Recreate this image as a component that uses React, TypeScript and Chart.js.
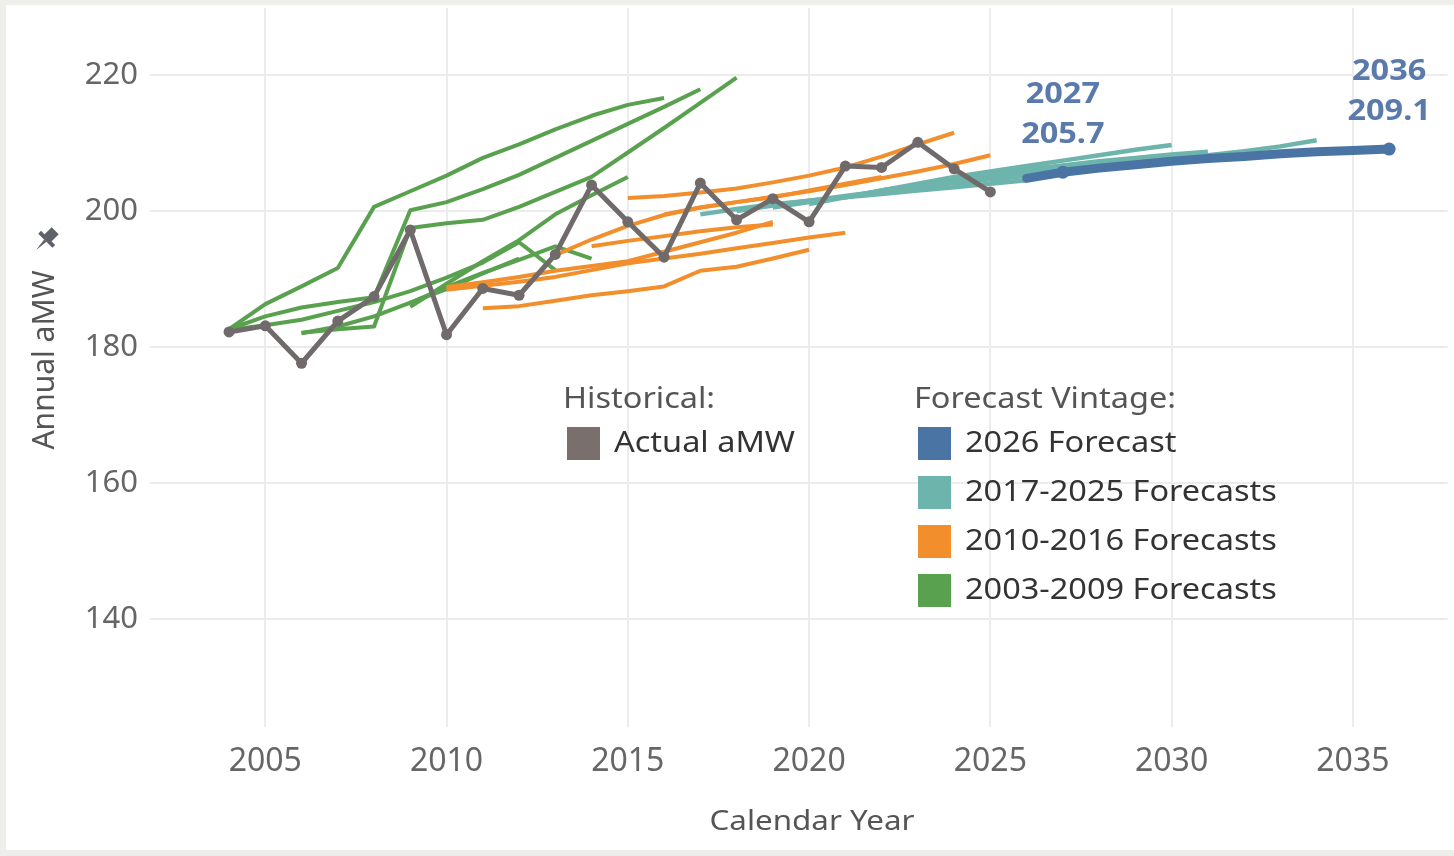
import React, { useEffect, useRef } from 'react';
import { Chart, registerables } from 'chart.js';

Chart.register(...registerables);

// ---------- DATA ----------
const actualStart = 2004;
const actualValues = [182.2, 183.1, 177.6, 183.8, 187.4, 197.2, 181.8, 188.6, 187.6, 193.6, 203.8, 198.4, 193.2, 204.1, 198.7, 201.8, 198.4, 206.6, 206.4, 210.1, 206.2, 202.8];

const forecast2026Start = 2026;
const forecast2026Values = [204.8, 205.7, 206.3, 206.8, 207.3, 207.7, 208.0, 208.4, 208.7, 208.9, 209.1];
const labeledYears = [2027, 2036];

// 2017-2025 forecasts (teal)
const tealStarts = [2017, 2018, 2019, 2020, 2021, 2022, 2023, 2024, 2025];
const teal2017 = [199.5, 200.3, 201.0, 201.5, 202.0, 202.5, 203.0, 203.5, 204.0, 204.5];
const teal2018 = [200.0, 200.8, 201.5, 202.2, 202.9, 203.5, 204.1, 204.7, 205.2, 205.7];
const teal2019 = [200.5, 201.3, 202.1, 202.9, 203.6, 204.3, 205.0, 205.6, 206.2, 206.8];
const teal2020 = [201.0, 202.0, 203.0, 203.8, 204.6, 205.3, 206.0, 206.6, 207.2, 207.7];
const teal2021 = [202.0, 203.0, 204.0, 205.0, 205.8, 206.6, 207.4, 208.2, 209.0, 209.7];
const teal2022 = [203.0, 203.8, 204.6, 205.4, 206.1, 206.7, 207.3, 207.8, 208.3, 208.7];
const teal2023 = [203.5, 204.3, 205.0, 205.6, 206.2, 206.7, 207.2, 207.7, 208.1, 208.5];
const teal2024 = [204.0, 204.7, 205.3, 205.8, 206.3, 206.8, 207.2, 207.6, 208.0, 208.3];
const teal2025 = [204.5, 205.2, 205.8, 206.4, 207.0, 207.6, 208.2, 208.8, 209.5, 210.4];
const tealSeries = [teal2017, teal2018, teal2019, teal2020, teal2021, teal2022, teal2023, teal2024, teal2025];

// 2010-2016 forecasts (orange)
const orangeStarts = [2010, 2011, 2010, 2013, 2014, 2015, 2016];
const orange2010 = [188.4, 189.0, 189.6, 190.3, 191.3, 192.3, 193.0, 193.7, 194.5, 195.3, 196.1, 196.8];
const orange2011 = [185.7, 186.0, 186.8, 187.6, 188.2, 188.9, 191.2, 191.8, 193.0, 194.3];
const orange2012 = [188.8, 189.5, 190.3, 191.2, 191.9, 192.6, 194.0, 195.4, 196.8, 198.4];
const orange2013 = [193.5, 195.8, 197.8, 199.4, 200.5, 201.3, 202.0, 203.0, 204.0, 205.0];
const orange2014 = [194.8, 195.6, 196.3, 197.0, 197.6, 198.0];
const orange2015 = [201.9, 202.2, 202.7, 203.3, 204.2, 205.2, 206.4, 208.0, 209.8, 211.5];
const orange2016 = [199.5, 200.5, 201.3, 202.1, 202.9, 203.8, 204.8, 205.8, 206.9, 208.2];
const orangeSeries = [orange2010, orange2011, orange2012, orange2013, orange2014, orange2015, orange2016];

// 2003-2009 forecasts (green)
const greenStarts = [2004, 2004, 2004, 2006, 2006, 2009, 2009];
const green2003 = [182.6, 186.3, 188.9, 191.6, 200.6, 202.9, 205.2, 207.8, 209.8, 212.0, 214.0, 215.6, 216.6];
const green2004 = [182.6, 184.5, 185.8, 186.6, 187.3, 200.1, 201.3, 203.2, 205.3, 207.8, 210.3, 212.8, 215.3, 217.9];
const green2005 = [182.5, 183.2, 184.0, 185.3, 186.6, 188.2, 190.2, 192.4, 195.4, 191.3];
const green2006 = [182.1, 182.6, 183.0, 197.5, 198.2, 198.7, 200.6, 202.8, 205.0, 208.6, 212.2, 215.9, 219.6];
const green2007 = [182.0, 183.0, 184.5, 186.5, 188.5, 190.8, 193.0];
const green2008 = [185.9, 189.3, 192.6, 195.7, 199.5, 202.3, 205.0];
const green2009 = [186.5, 188.8, 190.9, 192.8, 194.8, 193.0];
const greenSeries = [green2003, green2004, green2005, green2006, green2007, green2008, green2009];

const xTickLabels = ['2005', '2010', '2015', '2020', '2025', '2030', '2035'];
const yTickLabels = ['140', '160', '180', '200', '220'];

const legendHistorical = ['Actual aMW'];
const legendForecast = ['2026 Forecast', '2017-2025 Forecasts', '2010-2016 Forecasts', '2003-2009 Forecasts'];

// ---------- STYLE ----------
const GRAY = '#716a6b';
const BLUE = '#4a74a4';
const TEAL = '#6db4ad';
const ORANGE = '#f28e2b';
const GREEN = '#59a14f';
const FONT = '"Noto Sans", "Open Sans", sans-serif';
const STRETCH = 1.12;

const pts = (start: number, values: number[]) => values.map((y, i) => ({ x: start + i, y }));

function stretchedText(ctx: any, text: string, x: number, y: number, align: 'left' | 'center') {
  ctx.save();
  ctx.translate(x, y);
  ctx.scale(STRETCH, 1);
  ctx.textAlign = align;
  ctx.fillText(text, 0, 0);
  ctx.restore();
}

const decorPlugin = {
  id: 'decor',
  afterDatasetsDraw(chart: any) {
    const { ctx, scales } = chart;
    const xs = scales.x;
    const ys = scales.y;
    ctx.save();
    ctx.font = `bold 29px ${FONT}`;
    ctx.fillStyle = '#5a7aab';
    ctx.textBaseline = 'middle';
    labeledYears.forEach((yr) => {
      const v = forecast2026Values[yr - forecast2026Start];
      const px = xs.getPixelForValue(yr);
      const py = ys.getPixelForValue(v);
      stretchedText(ctx, String(yr), px, py - 77, 'center');
      stretchedText(ctx, v.toFixed(1), px, py - 37, 'center');
    });
    ctx.restore();
  },
  afterDraw(chart: any) {
    const { ctx } = chart;
    ctx.save();
    // axis titles
    ctx.fillStyle = '#555';
    ctx.font = `28px ${FONT}`;
    ctx.textBaseline = 'middle';
    stretchedText(ctx, 'Calendar Year', 812, 822, 'center');
    ctx.save();
    ctx.translate(45, 360);
    ctx.rotate(-Math.PI / 2);
    ctx.font = `30px ${FONT}`;
    ctx.textAlign = 'center';
    ctx.fillText('Annual aMW', 0, 0);
    ctx.restore();
    // pin icon
    ctx.save();
    ctx.translate(46, 240);
    ctx.rotate(Math.PI / 4);
    ctx.fillStyle = '#5f6369';
    ctx.beginPath();
    ctx.rect(-5, -13, 10, 11);
    ctx.fill();
    ctx.beginPath();
    ctx.rect(-10, -3, 20, 4);
    ctx.fill();
    ctx.beginPath();
    ctx.moveTo(-1.6, 1);
    ctx.lineTo(1.6, 1);
    ctx.lineTo(0, 14);
    ctx.closePath();
    ctx.fill();
    ctx.restore();

    // legends
    ctx.textBaseline = 'middle';
    ctx.font = `29px ${FONT}`;
    ctx.fillStyle = '#555';
    stretchedText(ctx, 'Historical:', 563, 400, 'left');
    stretchedText(ctx, 'Forecast Vintage:', 914, 400, 'left');
    ctx.fillStyle = '#79706e';
    ctx.fillRect(567, 427, 33, 33);
    ctx.fillStyle = '#333';
    stretchedText(ctx, legendHistorical[0], 614, 444, 'left');
    const cols = [BLUE, TEAL, ORANGE, GREEN];
    legendForecast.forEach((t, i) => {
      ctx.fillStyle = cols[i];
      ctx.fillRect(918, 427 + i * 49, 33, 33);
      ctx.fillStyle = '#333';
      stretchedText(ctx, t, 965, 444 + i * 49, 'left');
    });
    ctx.restore();
  },
};

export default function App() {
  const ref = useRef<HTMLCanvasElement | null>(null);

  useEffect(() => {
    if (!ref.current) return;
    const datasets: any[] = [];
    datasets.push({
      label: 'Actual aMW',
      data: pts(actualStart, actualValues),
      borderColor: GRAY,
      backgroundColor: GRAY,
      borderWidth: 5,
      pointRadius: 5.5,
      pointBorderWidth: 0,
      pointBackgroundColor: GRAY,
      order: 0,
    });
    datasets.push({
      label: '2026 Forecast',
      data: pts(forecast2026Start, forecast2026Values),
      borderColor: BLUE,
      backgroundColor: BLUE,
      borderWidth: 9,
      borderCapStyle: 'round',
      pointRadius: forecast2026Values.map((_, i) => (labeledYears.includes(forecast2026Start + i) ? 6.5 : 0)),
      pointBorderWidth: 0,
      pointBackgroundColor: BLUE,
      order: 1,
    });
    orangeSeries.forEach((s, i) =>
      datasets.push({
        label: 'orange' + i,
        data: pts(orangeStarts[i], s),
        borderColor: ORANGE,
        borderWidth: 4,
        pointRadius: 0,
        order: 2,
      })
    );
    tealSeries.forEach((s, i) =>
      datasets.push({
        label: 'teal' + i,
        data: pts(tealStarts[i], s),
        borderColor: TEAL,
        borderWidth: 4.5,
        pointRadius: 0,
        order: 3,
      })
    );
    greenSeries.forEach((s, i) =>
      datasets.push({
        label: 'green' + i,
        data: pts(greenStarts[i], s),
        borderColor: GREEN,
        borderWidth: 4,
        pointRadius: 0,
        order: 4,
      })
    );

    const chart = new Chart(ref.current, {
      type: 'line',
      data: { datasets },
      options: {
        responsive: false,
        animation: false,
        layout: { padding: { top: 8, left: 0, right: 0, bottom: 0 } },
        plugins: { legend: { display: false }, tooltip: { enabled: false } },
        elements: { line: { tension: 0, borderJoinStyle: 'round' } },
        scales: {
          x: {
            type: 'linear',
            min: 2001.82,
            max: 2037.61,
            border: { display: false },
            grid: { color: '#ececec', lineWidth: 2, drawTicks: false },
            ticks: {
              stepSize: 5,
              includeBounds: false,
              padding: 16,
              color: '#666',
              font: { family: FONT, size: 32 },
              maxRotation: 0,
              callback: (v: any) => {
                const s = String(v);
                return xTickLabels.includes(s) ? s : '';
              },
            },
            afterFit: (s: any) => {
              s.height = 129;
              s.paddingLeft = 0;
              s.paddingRight = 0;
            },
          },
          y: {
            type: 'linear',
            min: 124.1,
            max: 229.85,
            border: { display: false },
            grid: { color: '#ececec', lineWidth: 2, drawTicks: false },
            ticks: {
              stepSize: 20,
              includeBounds: false,
              padding: 12,
              color: '#666',
              font: { family: FONT, size: 31 },
              callback: (v: any) => {
                const s = String(v);
                return yTickLabels.includes(s) ? s : '';
              },
            },
            afterFit: (s: any) => {
              s.width = 150;
              s.paddingTop = 0;
              s.paddingBottom = 0;
            },
          },
        },
      },
      plugins: [decorPlugin],
    } as any);
    return () => chart.destroy();
  }, []);

  return (
    <div style={{ position: 'fixed', left: 0, top: 0, width: 1454, height: 856, background: '#eeeeea', overflow: 'hidden' }}>
      <div style={{ position: 'absolute', left: 6, top: 5, right: 0, bottom: 6, background: '#ffffff' }} />
      <canvas ref={ref} width={1454} height={856} style={{ position: 'absolute', left: 0, top: 0, width: 1454, height: 856 }} />
    </div>
  );
}
